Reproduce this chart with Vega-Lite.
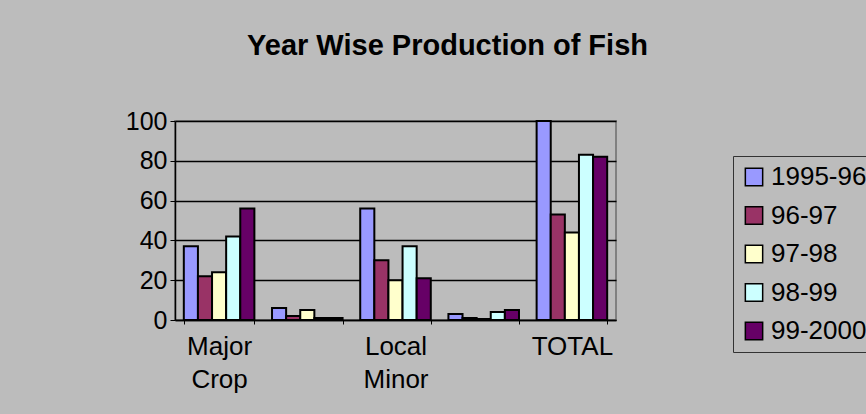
{
  "$schema": "https://vega.github.io/schema/vega-lite/v6.json",
  "width": 441,
  "height": 199,
  "autosize": {"type": "none"},
  "padding": {"left": 175, "top": 121, "right": 250, "bottom": 94},
  "background": "#bcbcbc",
  "title": {
    "text": "Year Wise Production of Fish",
    "font": "Liberation Sans",
    "fontSize": 29,
    "fontWeight": "bold",
    "color": "#000000",
    "anchor": "middle",
    "frame": "group",
    "offset": 48,
    "dx": 52
  },
  "config": {
    "font": "Liberation Sans",
    "view": {"stroke": "#808080", "strokeWidth": 2, "fill": "#bcbcbc"}
  },
  "data": {
    "values": [
      {"category": "Major Crop", "series": "1995-96", "value": 37},
      {"category": "Major Crop", "series": "96-97", "value": 22},
      {"category": "Major Crop", "series": "97-98", "value": 24},
      {"category": "Major Crop", "series": "98-99", "value": 42},
      {"category": "Major Crop", "series": "99-2000", "value": 56},
      {"category": " ", "series": "1995-96", "value": 6},
      {"category": " ", "series": "96-97", "value": 2},
      {"category": " ", "series": "97-98", "value": 5},
      {"category": " ", "series": "98-99", "value": 1},
      {"category": " ", "series": "99-2000", "value": 1},
      {"category": "Local Minor", "series": "1995-96", "value": 56},
      {"category": "Local Minor", "series": "96-97", "value": 30},
      {"category": "Local Minor", "series": "97-98", "value": 20},
      {"category": "Local Minor", "series": "98-99", "value": 37},
      {"category": "Local Minor", "series": "99-2000", "value": 21},
      {"category": "  ", "series": "1995-96", "value": 3},
      {"category": "  ", "series": "96-97", "value": 1},
      {"category": "  ", "series": "97-98", "value": 0.5},
      {"category": "  ", "series": "98-99", "value": 4},
      {"category": "  ", "series": "99-2000", "value": 5},
      {"category": "TOTAL", "series": "1995-96", "value": 100},
      {"category": "TOTAL", "series": "96-97", "value": 53},
      {"category": "TOTAL", "series": "97-98", "value": 44},
      {"category": "TOTAL", "series": "98-99", "value": 83},
      {"category": "TOTAL", "series": "99-2000", "value": 82}
    ]
  },
  "mark": {"type": "bar", "stroke": "#000000", "strokeWidth": 2},
  "encoding": {
    "x": {
      "field": "category",
      "type": "nominal",
      "sort": ["Major Crop", " ", "Local Minor", "  ", "TOTAL"],
      "scale": {"paddingInner": 0.2, "paddingOuter": 0.1},
      "axis": {
        "title": null,
        "labelAngle": 0,
        "labelExpr": "isString(datum.value) ? split(trim(datum.value), ' ') : ''",
        "labelFontSize": 26,
        "labelColor": "#000000",
        "labelLineHeight": 33,
        "labelPadding": 9,
        "tickBand": "extent",
        "tickSize": 4,
        "tickColor": "#000000",
        "domainColor": "#000000",
        "domainWidth": 1.5
      }
    },
    "xOffset": {
      "field": "series",
      "type": "nominal",
      "sort": ["1995-96", "96-97", "97-98", "98-99", "99-2000"],
      "scale": {"paddingInner": 0, "paddingOuter": 0}
    },
    "y": {
      "field": "value",
      "type": "quantitative",
      "scale": {"domain": [0, 100], "nice": false},
      "axis": {
        "title": null,
        "values": [0, 20, 40, 60, 80, 100],
        "labelFontSize": 25,
        "labelColor": "#000000",
        "labelPadding": 3,
        "tickSize": 5,
        "tickColor": "#000000",
        "domainColor": "#000000",
        "domainWidth": 1.5,
        "grid": true,
        "gridColor": "#000000",
        "gridWidth": 1.5
      }
    },
    "color": {
      "field": "series",
      "type": "nominal",
      "sort": ["1995-96", "96-97", "97-98", "98-99", "99-2000"],
      "scale": {
        "domain": ["1995-96", "96-97", "97-98", "98-99", "99-2000"],
        "range": ["#9999ff", "#993366", "#ffffcc", "#ccffff", "#660066"]
      },
      "legend": {
        "title": null,
        "orient": "none",
        "legendX": 558,
        "legendY": 35,
        "symbolType": "square",
        "symbolSize": 300,
        "symbolStrokeColor": "#000000",
        "symbolStrokeWidth": 1.5,
        "symbolOpacity": 1,
        "labelFontSize": 26,
        "labelColor": "#000000",
        "labelOffset": 4,
        "rowPadding": 12.5,
        "padding": 8,
        "strokeColor": "#333333",
        "fillColor": "#bcbcbc"
      }
    }
  }
}
